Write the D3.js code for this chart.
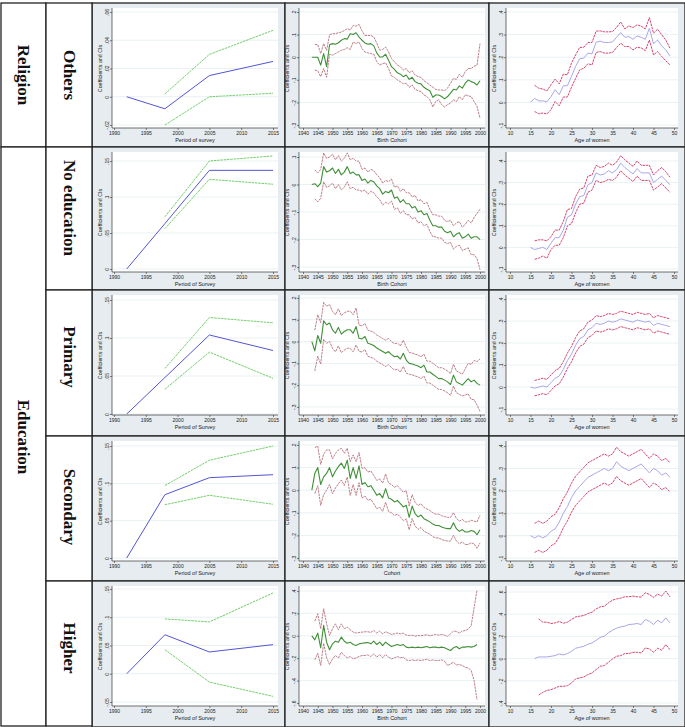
<!DOCTYPE html>
<html><head><meta charset="utf-8">
<script src="https://cdn.jsdelivr.net/npm/d3@7"></script>
<style>body{margin:0;background:#fff}svg{display:block}</style>
</head><body><svg id="c" width="685" height="727"></svg>
<script>
// ---------- DATA ----------
const surveyYears = [1992, 1998, 2005, 2015];
const ciYears = [1998, 2005, 2015];
const cohortYears = d3.range(1943, 2001);
const cohortCiYears = d3.range(1944, 2001);
const cohortYearsH = d3.range(1943, 2000);
const cohortCiYearsH = d3.range(1944, 2000);
const ages15 = d3.range(15, 50), ages16 = d3.range(16, 50), ages17 = d3.range(17, 50);

// Religion: Others
const othSurvey = [0, -0.0085, 0.015, 0.025];
const othSurveyUp = [0.002, 0.030, 0.047];
const othSurveyLo = [-0.020, 0.000, 0.0025];
const othCohort = [0,0,0,-.035,.016,-.042,.055,.06,.057,.064,.075,.082,.08,.104,.1,.108,.089,.075,.063,.057,.06,.05,.019,.001,.001,.013,-.013,-.042,-.054,-.069,-.075,-.086,-.079,-.098,-.089,-.108,-.115,-.118,-.133,-.142,-.148,-.177,-.167,-.167,-.174,-.184,-.174,-.159,-.142,-.145,-.127,-.137,-.115,-.101,-.108,-.113,-.123,-.104];
const othCohortUp = [.056,.056,.016,.06,.03,.099,.104,.104,.108,.111,.118,.126,.12,.14,.137,.145,.116,.096,.096,.096,.089,.063,.031,.034,.045,.023,-.006,-.02,-.035,-.042,-.057,-.05,-.069,-.06,-.079,-.086,-.089,-.104,-.113,-.123,-.133,-.142,-.145,-.145,-.148,-.137,-.115,-.094,-.098,-.075,-.089,-.064,-.05,-.05,-.04,-.035,.06];
const othCohortLo = [-.057,-.06,-.086,-.05,-.089,.013,.009,.016,.023,.031,.034,.042,.034,.067,.06,.067,.038,.023,.019,.016,.013,-.02,-.035,-.028,-.025,-.05,-.083,-.089,-.101,-.108,-.118,-.115,-.133,-.123,-.142,-.148,-.152,-.167,-.174,-.188,-.22,-.196,-.188,-.21,-.22,-.21,-.203,-.188,-.196,-.174,-.188,-.166,-.171,-.174,-.196,-.218,-.269];
const othAge = [0,.018,.007,.007,.003,.026,.056,.034,.074,.074,.115,.159,.193,.196,.218,.215,.266,.271,.265,.265,.268,.288,.309,.288,.291,.279,.294,.288,.279,.328,.259,.276,.25,.232,.206];
const othAgeUp = [.076,.063,.059,.051,.078,.103,.082,.125,.122,.174,.21,.243,.244,.265,.265,.315,.316,.312,.312,.313,.332,.356,.325,.338,.331,.343,.337,.325,.375,.306,.324,.299,.276,.24];
const othAgeLo = [-.04,-.05,-.047,-.051,-.032,.004,-.015,.024,.024,.068,.106,.144,.151,.171,.166,.221,.225,.218,.218,.221,.243,.262,.247,.247,.232,.244,.241,.229,.276,.21,.225,.203,.184,.165];

// Education: No education
const noeSurvey = [0, 0.063, 0.137, 0.137];
const noeSurveyUp = [0.0725, 0.150, 0.157];
const noeSurveyLo = [0.056, 0.1246, 0.1177];
const noeCohort = [0,.003,-.008,.005,.065,.045,.05,.06,.04,.055,.035,.045,.065,.04,.045,.035,.035,.015,.02,.005,.015,.01,-.005,-.015,-.035,-.025,-.03,-.02,-.05,-.045,-.065,-.055,-.07,-.07,-.085,-.08,-.1,-.095,-.11,-.105,-.13,-.15,-.15,-.155,-.155,-.17,-.175,-.17,-.19,-.18,-.175,-.195,-.19,-.18,-.195,-.19,-.19,-.2];
const noeCohortUp = [.053,.042,.055,.115,.095,.1,.11,.09,.105,.085,.095,.115,.09,.095,.085,.085,.055,.06,.045,.055,.05,.035,.025,.005,.015,.01,.02,-.01,-.005,-.025,-.015,-.03,-.03,-.045,-.04,-.06,-.055,-.07,-.065,-.09,-.11,-.11,-.115,-.115,-.13,-.135,-.13,-.15,-.14,-.135,-.155,-.145,-.13,-.14,-.12,-.105,-.09];
const noeCohortLo = [-.052,-.063,-.05,.01,-.01,-.005,.005,-.015,0,-.02,-.01,.01,-.015,-.01,-.02,-.02,-.025,-.02,-.035,-.025,-.03,-.045,-.055,-.075,-.065,-.07,-.06,-.09,-.085,-.105,-.095,-.11,-.11,-.125,-.12,-.14,-.135,-.15,-.145,-.17,-.19,-.19,-.195,-.195,-.21,-.215,-.21,-.235,-.225,-.22,-.24,-.235,-.23,-.255,-.255,-.27,-.31];
const noeAge = [0,-.01,-.005,0,-.01,.02,.045,.045,.08,.14,.15,.2,.235,.24,.29,.3,.345,.335,.34,.355,.345,.36,.39,.37,.355,.34,.365,.345,.345,.345,.3,.315,.33,.31,.29];
const noeAgeUp = [.03,.035,.035,.03,.05,.08,.08,.12,.175,.18,.235,.27,.275,.33,.335,.38,.37,.375,.39,.38,.395,.425,.405,.39,.375,.4,.38,.38,.38,.335,.355,.37,.35,.325];
const noeAgeLo = [-.055,-.05,-.04,-.05,-.01,.01,.01,.045,.1,.11,.16,.2,.205,.255,.265,.31,.3,.305,.315,.31,.325,.355,.335,.32,.305,.33,.31,.31,.31,.265,.28,.295,.275,.255];

// Education: Primary
const priSurvey = [0, 0.048, 0.104, 0.0836];
const priSurveyUp = [0.060, 0.127, 0.120];
const priSurveyLo = [0.0326, 0.0814, 0.047];
const priCohort = [0,-.043,.028,-.008,.095,.077,.085,.054,.038,.065,.034,.046,.054,.054,.038,.069,.015,.012,.023,-.008,-.012,-.018,-.03,-.038,-.046,-.054,-.046,-.06,-.07,-.067,-.08,-.054,-.085,-.1,-.103,-.108,-.112,-.12,-.108,-.14,-.14,-.15,-.16,-.17,-.17,-.177,-.185,-.197,-.154,-.185,-.192,-.2,-.185,-.17,-.185,-.177,-.192,-.2];
const priCohortUp = [.052,.123,.087,.18,.162,.17,.139,.123,.15,.119,.131,.139,.139,.123,.154,.075,.072,.083,.052,.048,.042,.03,.022,.014,.006,.014,0,-.01,-.007,-.02,.006,-.025,-.05,-.053,-.058,-.062,-.07,-.058,-.09,-.09,-.1,-.11,-.12,-.12,-.127,-.135,-.147,-.104,-.135,-.142,-.15,-.125,-.1,-.105,-.087,-.092,-.08];
const priCohortLo = [-.135,-.067,-.103,.01,-.008,0,-.031,-.047,-.02,-.051,-.039,-.031,-.031,-.047,-.016,-.045,-.048,-.037,-.068,-.072,-.078,-.09,-.098,-.106,-.114,-.106,-.12,-.13,-.127,-.14,-.114,-.145,-.15,-.153,-.158,-.162,-.17,-.158,-.19,-.19,-.2,-.21,-.22,-.22,-.227,-.235,-.247,-.204,-.235,-.242,-.25,-.245,-.24,-.265,-.267,-.292,-.32];
const priAge = [0,-.005,0,.005,0,.02,.04,.05,.08,.12,.15,.19,.22,.23,.26,.27,.29,.285,.29,.3,.295,.3,.31,.305,.3,.295,.305,.3,.295,.3,.28,.29,.285,.28,.275];
const priAgeUp = [.03,.035,.04,.035,.055,.075,.085,.115,.155,.185,.225,.255,.265,.295,.305,.325,.32,.325,.335,.33,.335,.345,.34,.335,.33,.34,.335,.33,.335,.315,.325,.32,.315,.31];
const priAgeLo = [-.04,-.035,-.03,-.035,-.015,.005,.015,.045,.085,.115,.155,.185,.195,.225,.235,.255,.25,.255,.265,.26,.265,.275,.27,.265,.26,.27,.265,.26,.265,.245,.255,.25,.245,.24];

// Education: Secondary
const secSurvey = [0, 0.0848, 0.1076, 0.1116];
const secSurveyUp = [0.097, 0.131, 0.150];
const secSurveyLo = [0.0714, 0.084, 0.072];
const secCohort = [0,.074,.1,.025,.059,.074,.1,.059,.085,.104,.12,.096,.133,.052,.1,.052,.108,.025,.034,.015,.02,0,-.022,-.015,-.034,.007,-.034,-.04,-.052,-.045,-.059,-.074,-.067,-.12,-.07,-.104,-.118,-.11,-.126,-.133,-.14,-.15,-.156,-.156,-.163,-.167,-.17,-.17,-.144,-.17,-.182,-.174,-.185,-.185,-.178,-.182,-.197,-.175];
const secCohortUp = [.188,.195,.114,.159,.178,.178,.138,.163,.178,.185,.163,.185,.126,.156,.126,.167,.096,.099,.08,.085,.065,.043,.05,.031,.072,.031,.025,.013,.02,.006,-.009,-.002,-.07,-.02,-.054,-.068,-.06,-.076,-.083,-.09,-.1,-.106,-.106,-.113,-.117,-.12,-.12,-.099,-.125,-.137,-.129,-.14,-.14,-.133,-.137,-.14,-.11];
const secCohortLo = [-.015,.02,-.067,-.02,0,.025,-.016,.01,.029,.045,.021,.058,-.023,.025,-.023,.033,-.035,-.026,-.045,-.04,-.06,-.082,-.075,-.094,-.053,-.094,-.1,-.112,-.105,-.119,-.134,-.127,-.175,-.125,-.159,-.173,-.165,-.181,-.188,-.195,-.205,-.211,-.211,-.218,-.222,-.225,-.225,-.199,-.225,-.237,-.229,-.24,-.24,-.233,-.237,-.257,-.233];
const secAge = [0,-.01,0,-.01,0,.02,.03,.06,.1,.13,.17,.2,.22,.24,.26,.27,.28,.29,.3,.29,.3,.33,.31,.3,.29,.3,.31,.32,.3,.28,.3,.29,.27,.28,.26];
const secAgeUp = [.055,.065,.055,.065,.085,.095,.125,.165,.195,.235,.265,.285,.305,.325,.335,.345,.355,.365,.355,.365,.395,.375,.365,.355,.365,.375,.385,.365,.345,.365,.355,.335,.345,.325];
const secAgeLo = [-.075,-.065,-.075,-.065,-.045,-.035,-.005,.035,.065,.105,.135,.155,.175,.195,.205,.215,.225,.235,.225,.235,.265,.245,.235,.225,.235,.245,.255,.235,.215,.235,.225,.205,.215,.195];

// Education: Higher
const higSurvey = [0, 0.069, 0.0385, 0.0515];
const higSurveyUp = [0.097, 0.0917, 0.143];
const higSurveyLo = [0.0426, -0.0148, -0.040];
const higCohort = [0,-.036,.024,-.107,.093,-.057,-.125,-.072,-.048,-.057,-.012,-.048,-.066,-.057,-.078,-.087,-.072,-.066,-.063,-.06,-.072,-.048,-.078,-.057,-.087,-.057,-.078,-.096,-.087,-.078,-.087,-.078,-.101,-.107,-.101,-.107,-.101,-.107,-.101,-.096,-.107,-.101,-.101,-.107,-.101,-.107,-.119,-.131,-.107,-.096,-.116,-.101,-.101,-.096,-.101,-.096,-.078];
const higCohortUp = [.131,.197,.063,.242,.107,.003,.063,.107,.054,.107,.063,.078,.054,.033,.024,.03,.033,.036,.036,.03,.048,.024,.042,.018,.036,.024,.012,.018,.024,.018,.024,.006,.003,.006,-.003,.003,0,.006,.009,0,.006,.012,.006,.012,.006,-.006,.018,.042,.039,.024,.042,.048,.06,.09,.25,.41];
const higCohortLo = [-.215,-.155,-.266,-.066,-.197,-.257,-.206,-.176,-.197,-.146,-.176,-.197,-.185,-.206,-.197,-.185,-.176,-.176,-.17,-.185,-.161,-.191,-.167,-.197,-.167,-.191,-.206,-.197,-.185,-.197,-.191,-.215,-.221,-.215,-.221,-.215,-.221,-.215,-.209,-.221,-.215,-.221,-.221,-.215,-.227,-.266,-.251,-.236,-.26,-.257,-.266,-.281,-.287,-.31,-.4,-.573];
const higAge = [0,.015,.015,.015,.021,.027,.042,.033,.045,.066,.093,.102,.111,.129,.141,.165,.192,.201,.232,.256,.274,.286,.292,.307,.31,.316,.307,.352,.337,.307,.346,.322,.367,.322];
const higAgeUp = [.358,.328,.328,.316,.322,.334,.319,.328,.352,.376,.382,.388,.406,.418,.448,.466,.472,.502,.526,.538,.544,.557,.557,.563,.557,.554,.593,.578,.551,.581,.563,.608,.557];
const higAgeLo = [-.328,-.304,-.286,-.28,-.265,-.25,-.25,-.244,-.22,-.183,-.174,-.165,-.144,-.129,-.099,-.069,-.063,-.033,-.003,.021,.027,.045,.045,.057,.057,.051,.096,.087,.057,.093,.075,.126,.081];

// Tick labels
const surveyTicks = [1990, 1995, 2000, 2005, 2010, 2015];
const cohortTicks = [1940,1945,1950,1955,1960,1965,1970,1975,1980,1985,1990,1995,2000];
const ageTicks = [10,15,20,25,30,35,40,45,50];
const groupLabels = ["Religion", "Education"];
const rowLabels = ["Others", "No education", "Primary", "Secondary", "Higher"];

// ---------- LAYOUT ----------
const svg = d3.select('#c');
const colX = [[92,285],[285,489],[489,685]];
const rowY = [[3,147],[147,290],[290,436],[436,581],[581,727]];
const colCfg = [
  {xDom:[1990,2015], xa:22, xb:181, axisX:20, plotR:186, ticks:surveyTicks},
  {xDom:[1940,2000], xa:18, xb:195, axisX:14, plotR:200, ticks:cohortTicks},
  {xDom:[10,50], xa:21, xb:185, axisX:17, plotR:189, ticks:ageTicks}
];
const COL = {
  mid0:'#5454d6', ci0:'#62c95a',
  mid1:'#3f8f36', ci1:'#b7707a',
  mid2:'#a9a7ea', ci2:'#d3305c'
};
function S(x, y, c) { return {x, y, c}; }
const panels = [
  {r:0,c:0,yDom:[-.0221,.0621],yt:[-.02,0,.02,.04,.06],yl:['-.02','0','.02','.04','.06'],xt:'Period of survey',
   s:[S(surveyYears,othSurvey,'mid'),S(ciYears,othSurveyUp,'ci'),S(ciYears,othSurveyLo,'ci')]},
  {r:0,c:1,yDom:[-.313,.213],yt:[-.3,-.2,-.1,0,.1,.2],yl:['-.3','-.2','-.1','0','.1','.2'],xt:'Birth Cohort',
   s:[S(cohortCiYears,othCohortUp,'ci'),S(cohortCiYears,othCohortLo,'ci'),S(cohortYears,othCohort,'mid')]},
  {r:0,c:2,yDom:[-.113,.413],yt:[-.1,0,.1,.2,.3,.4],yl:['-.1','0','.1','.2','.3','.4'],xt:'Age of women',
   s:[S(ages16,othAgeUp,'ci'),S(ages16,othAgeLo,'ci'),S(ages15,othAge,'mid')]},

  {r:1,c:0,yDom:[-.0042,.1611],yt:[0,.05,.1,.15],yl:['0','.05','.1','.15'],xt:'Period of Survey',
   s:[S(surveyYears,noeSurvey,'mid'),S(ciYears,noeSurveyUp,'ci'),S(ciYears,noeSurveyLo,'ci')]},
  {r:1,c:1,yDom:[-.318,.1145],yt:[-.3,-.2,-.1,0,.1],yl:['-.3','-.2','-.1','0','.1'],xt:'Birth Cohort',
   s:[S(cohortCiYears,noeCohortUp,'ci'),S(cohortCiYears,noeCohortLo,'ci'),S(cohortYears,noeCohort,'mid')]},
  {r:1,c:2,yDom:[-.114,.437],yt:[-.1,0,.1,.2,.3,.4],yl:['-.1','0','.1','.2','.3','.4'],xt:'Age of women',
   s:[S(ages16,noeAgeUp,'ci'),S(ages16,noeAgeLo,'ci'),S(ages15,noeAge,'mid')]},

  {r:2,c:0,yDom:[-.0013,.1553],yt:[0,.05,.1,.15],yl:['0','.05','.1','.15'],xt:'Period of Survey',
   s:[S(surveyYears,priSurvey,'mid'),S(ciYears,priSurveyUp,'ci'),S(ciYears,priSurveyLo,'ci')]},
  {r:2,c:1,yDom:[-.337,.209],yt:[-.3,-.2,-.1,0,.1,.2],yl:['-.3','-.2','-.1','0','.1','.2'],xt:'Birth Cohort',
   s:[S(cohortCiYears,priCohortUp,'ci'),S(cohortCiYears,priCohortLo,'ci'),S(cohortYears,priCohort,'mid')]},
  {r:2,c:2,yDom:[-.127,.414],yt:[-.1,0,.1,.2,.3,.4],yl:['-.1','0','.1','.2','.3','.4'],xt:'Age of women',
   s:[S(ages16,priAgeUp,'ci'),S(ages16,priAgeLo,'ci'),S(ages15,priAge,'mid')]},

  {r:3,c:0,yDom:[-.004,.1554],yt:[0,.05,.1,.15],yl:['0','.05','.1','.15'],xt:'Period of Survey',
   s:[S(surveyYears,secSurvey,'mid'),S(ciYears,secSurveyUp,'ci'),S(ciYears,secSurveyLo,'ci')]},
  {r:3,c:1,yDom:[-.313,.213],yt:[-.3,-.2,-.1,0,.1,.2],yl:['-.3','-.2','-.1','0','.1','.2'],xt:'Cohort',
   s:[S(cohortCiYears,secCohortUp,'ci'),S(cohortCiYears,secCohortLo,'ci'),S(cohortYears,secCohort,'mid')]},
  {r:3,c:2,yDom:[-.113,.418],yt:[-.1,0,.1,.2,.3,.4],yl:['-.1','0','.1','.2','.3','.4'],xt:'Age of women',
   s:[S(ages16,secAgeUp,'ci'),S(ages16,secAgeLo,'ci'),S(ages15,secAge,'mid')]},

  {r:4,c:0,yDom:[-.0571,.1535],yt:[-.05,0,.05,.1,.15],yl:['-.05','0','.05','.1','.15'],xt:'Period of Survey',
   s:[S(surveyYears,higSurvey,'mid'),S(ciYears,higSurveyUp,'ci'),S(ciYears,higSurveyLo,'ci')]},
  {r:4,c:1,yDom:[-.627,.436],yt:[-.6,-.4,-.2,0,.2,.4],yl:['-.6','-.4','-.2','0','.2','.4'],xt:'Birth Cohort',
   s:[S(cohortCiYearsH,higCohortUp,'ci'),S(cohortCiYearsH,higCohortLo,'ci'),S(cohortYearsH,higCohort,'mid')]},
  {r:4,c:2,yDom:[-.427,.645],yt:[-.4,-.2,0,.2,.4,.6],yl:['-.4','-.2','0','.2','.4','.6'],xt:'Age of women',
   s:[S(ages17,higAgeUp,'ci'),S(ages17,higAgeLo,'ci'),S(ages16,higAge,'mid')]}
];

const FONT = "'Liberation Sans', Arial, sans-serif";

function drawPanel(p) {
  const [x0, x1] = colX[p.c], [y0, y1] = rowY[p.r];
  const L = colCfg[p.c];
  const g = svg.append('g');
  g.append('rect').attr('x', x0).attr('y', y0).attr('width', x1 - x0).attr('height', y1 - y0)
    .attr('fill', '#e6ecef');
  const top = y0 + 6, bot = y0 + 125;
  const x = d3.scaleLinear().domain(L.xDom).range([x0 + L.xa, x0 + L.xb]);
  const y = d3.scaleLinear().domain(p.yDom).range([bot, top]);
  const ax = x0 + L.axisX, pr = x0 + L.plotR;
  g.append('rect').attr('x', ax).attr('y', top - 1).attr('width', pr - ax).attr('height', bot - top + 1).attr('fill', '#fff');
  g.selectAll('.gl').data(p.yt).join('line')
    .attr('x1', ax).attr('x2', pr).attr('y1', d => y(d)).attr('y2', d => y(d))
    .attr('stroke', '#e3eef0').attr('stroke-width', 0.8);
  const ya = g.append('g').attr('transform', `translate(${ax},0)`)
    .call(d3.axisLeft(y).tickValues(p.yt).tickSize(2).tickSizeOuter(0).tickFormat((d, i) => p.yl[i]));
  ya.select('.domain').remove();
  ya.append('line').attr('x1', 0).attr('x2', 0).attr('y1', top - 1).attr('y2', bot).attr('stroke', '#333').attr('stroke-width', 0.7);
  ya.selectAll('.tick line').attr('stroke', '#333').attr('stroke-width', 0.6);
  ya.selectAll('.tick text').attr('x', null).attr('dy', null)
    .attr('transform', 'translate(-3.5,0) rotate(-90)').attr('text-anchor', 'middle')
    .attr('font-size', 5).attr('font-family', FONT).attr('fill', '#222');
  const xa = g.append('g').attr('transform', `translate(0,${bot})`)
    .call(d3.axisBottom(x).tickValues(L.ticks).tickSize(2).tickSizeOuter(0).tickFormat(d3.format('d')));
  xa.select('.domain').remove();
  xa.append('line').attr('x1', ax).attr('x2', pr).attr('y1', 0).attr('y2', 0).attr('stroke', '#333').attr('stroke-width', 0.7);
  xa.selectAll('.tick line').attr('stroke', '#333').attr('stroke-width', 0.6);
  xa.selectAll('.tick text').attr('y', 3).attr('dy', '0.71em')
    .attr('font-size', 5).attr('font-family', FONT).attr('fill', '#222');
  g.append('text').attr('x', (ax + pr) / 2).attr('y', bot + 14).attr('text-anchor', 'middle')
    .attr('font-size', 5.5).attr('font-family', FONT).attr('fill', '#222').text(p.xt);
  g.append('text').attr('transform', `translate(${ax - 10},${(top + bot) / 2}) rotate(-90)`)
    .attr('text-anchor', 'middle').attr('font-size', 5.3).attr('font-family', FONT).attr('fill', '#222')
    .text('Coefficients and CIs');
  const line = d3.line().x(d => x(d[0])).y(d => y(d[1]));
  p.s.forEach(s => {
    const pts = s.x.map((v, i) => [v, s.y[i]]);
    const isCi = s.c === 'ci';
    g.append('path').attr('d', line(pts)).attr('fill', 'none')
      .attr('stroke', COL[(isCi ? 'ci' : 'mid') + p.c])
      .attr('stroke-width', isCi ? 0.9 : (p.c === 1 ? 1.1 : 1.0))
      .attr('stroke-dasharray', isCi ? '2.5,0.8' : null)
      .attr('stroke-linejoin', 'round');
  });
  g.append('rect').attr('x', x0).attr('y', y0).attr('width', x1 - x0).attr('height', y1 - y0)
    .attr('fill', 'none').attr('stroke', '#222').attr('stroke-width', 1.3);
}
panels.forEach(drawPanel);

const lab = svg.append('g');
function cell(x0, y0, x1, y1) {
  lab.append('rect').attr('x', x0).attr('y', y0).attr('width', x1 - x0).attr('height', y1 - y0)
    .attr('fill', '#fff').attr('stroke', '#222').attr('stroke-width', 1.3);
}
function vtext(cx, cy, t) {
  lab.append('text').attr('transform', `translate(${cx},${cy}) rotate(90)`)
    .attr('text-anchor', 'middle').attr('dominant-baseline', 'central')
    .attr('font-family', "'Liberation Serif', 'Times New Roman', serif").attr('font-weight', 'bold')
    .attr('font-size', 17).attr('fill', '#111').text(t);
}
cell(1, 3, 46, 147); cell(1, 147, 46, 726);
rowY.forEach(r => cell(46, r[0], 92, r[1] === 727 ? 726 : r[1]));
vtext(23, 75, groupLabels[0]);
vtext(23, 437, groupLabels[1]);
const rowCenters = [75, 208, 357, 507, 648];
rowLabels.forEach((t, i) => vtext(69, rowCenters[i], t));
</script>
</body></html>
